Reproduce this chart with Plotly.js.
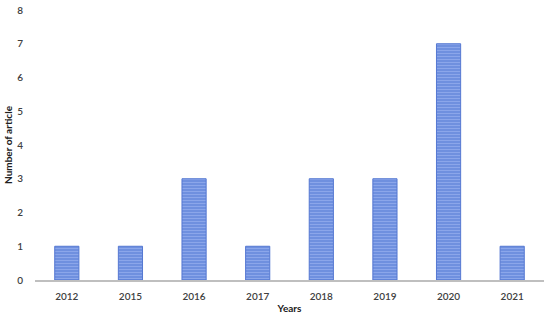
<!DOCTYPE html>
<html>
<head>
<meta charset="utf-8">
<script src="https://cdn.plot.ly/plotly-3.0.1.min.js"></script>
<style>
  html, body { margin: 0; padding: 0; background: #fff; }
  #grafico { width: 550px; height: 317px; }
</style>
</head>
<body>
<div id="grafico"></div>
<script>
const anos = ["2012", "2015", "2016", "2017", "2018", "2019", "2020", "2021"];
const artigos = [1, 1, 3, 1, 3, 3, 7, 1];

const fonte = { family: "Lato, 'Open Sans', sans-serif", size: 10, color: "#404040" };

Plotly.newPlot("grafico", [{
  x: anos,
  y: artigos,
  type: "bar",
  marker: {
    color: "#7092e0",
    line: { color: "#5578d2", width: 1 },
    pattern: { shape: "-", bgcolor: "#6f90df", fgcolor: "#8ba6ea", size: 3, solidity: 0.35, fillmode: "replace" }
  },
  hoverinfo: "none"
}], {
  width: 550,
  height: 317,
  margin: { l: 35, r: 6, t: 10, b: 37 },
  plot_bgcolor: "#fff",
  paper_bgcolor: "#fff",
  showlegend: false,
  bargap: 0.62,
  font: fonte,
  xaxis: {
    type: "category",
    showline: true,
    linecolor: "#bfbfbf",
    linewidth: 2,
    showgrid: false,
    ticks: "outside",
    ticklen: 6,
    tickcolor: "rgba(0,0,0,0)",
    tickfont: { ...fonte, size: 10, weight: 600 },
    title: { text: "Years", font: { ...fonte, size: 10, color: "#202020", weight: "bold" }, standoff: 4 }
  },
  yaxis: {
    range: [0, 8],
    dtick: 1,
    showline: false,
    showgrid: false,
    zeroline: false,
    ticks: "outside",
    ticklen: 9,
    tickcolor: "rgba(0,0,0,0)",
    tickfont: { ...fonte, size: 10, weight: 600 },
    title: { text: "Number of article", font: { ...fonte, size: 10, color: "#202020", weight: "bold" }, standoff: 2 }
  }
}, { displayModeBar: false, staticPlot: true });
</script>
</body>
</html>
